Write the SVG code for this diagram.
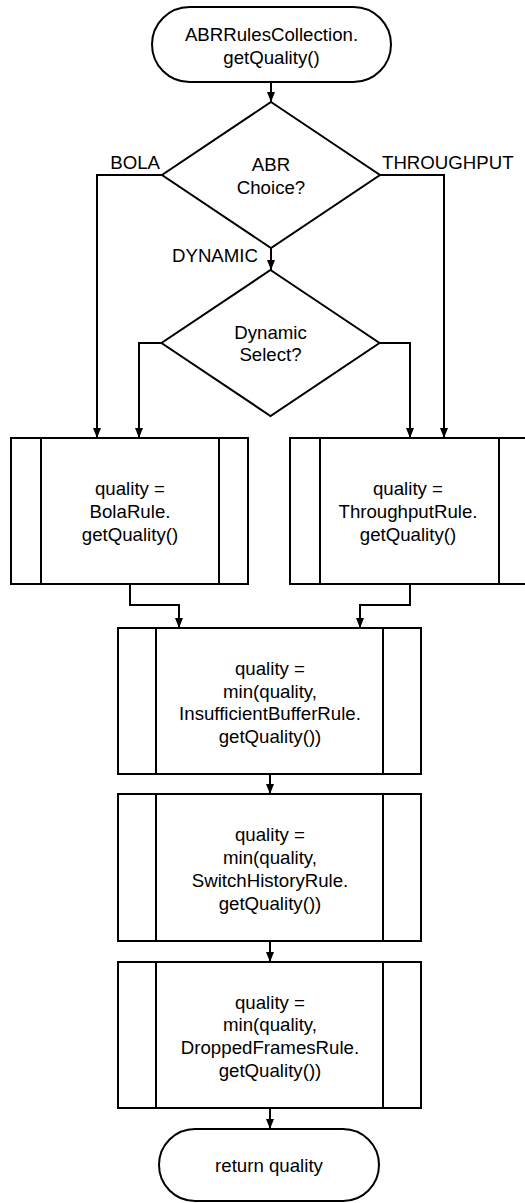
<svg xmlns="http://www.w3.org/2000/svg" width="525" height="1203" viewBox="0 0 525 1203">
<style>
.s{fill:#fff;stroke:#000;stroke-width:2}
.l{stroke:#000;stroke-width:2;fill:none}
.c{fill:none;stroke:#000;stroke-width:2;marker-end:url(#ah)}
text{font-family:"Liberation Sans",Arial,sans-serif;font-size:18.67px;fill:#000}
.m{text-anchor:middle}
</style>
<defs>
<marker id="ah" viewBox="0 0 10 8" refX="10" refY="4" markerWidth="10" markerHeight="8" markerUnits="userSpaceOnUse" orient="auto">
<path d="M0,0 L10,4 L0,8 Z" fill="#000"/>
</marker>
</defs>
<rect width="525" height="1203" fill="#fff"/>
<g id="connectors">
<path class="c" d="M271,82 L271,102"/>
<path class="c" d="M162,175 L97,175 L97,438"/>
<path class="c" d="M380,175 L444,175 L444,438"/>
<path class="c" d="M271,248 L271,270"/>
<path class="c" d="M161,343 L139,343 L139,438"/>
<path class="c" d="M380,343 L410,343 L410,438"/>
<path class="c" d="M130,584 L130,605 L179,605 L179,628"/>
<path class="c" d="M410,584 L410,605 L360,605 L360,628"/>
<path class="c" d="M270,774 L270,794"/>
<path class="c" d="M270,941 L270,962"/>
<path class="c" d="M270,1108 L270,1129"/>
<text x="160" y="168.5" text-anchor="end">BOLA</text>
<text x="382" y="168.5">THROUGHPUT</text>
<text x="258" y="261.5" text-anchor="end">DYNAMIC</text>
</g>
<g id="start">
<rect class="s" x="152" y="7" width="239" height="75" rx="37.5" ry="37.5"/>
<text class="m" x="271.5" y="41">ABRRulesCollection.</text>
<text class="m" x="271.5" y="64">getQuality()</text>
</g>
<g id="abrChoice">
<polygon class="s" points="271,102 380,175 271,248 162,175"/>
<text class="m" x="271" y="171">ABR</text>
<text class="m" x="271" y="193.5">Choice?</text>
</g>
<g id="dynamicSelect">
<polygon class="s" points="270.5,270 379.5,343 270.5,416 161.5,343"/>
<text class="m" x="270.5" y="338.5">Dynamic</text>
<text class="m" x="270.5" y="361">Select?</text>
</g>
<g id="bolaRule">
<rect class="s" x="11" y="438" width="237" height="146"/>
<line class="l" x1="41" y1="438" x2="41" y2="584"/>
<line class="l" x1="219" y1="438" x2="219" y2="584"/>
<text class="m" x="130" y="494.5">quality =</text>
<text class="m" x="130" y="517.5">BolaRule.</text>
<text class="m" x="130" y="540.5">getQuality()</text>
</g>
<g id="throughputRule">
<rect class="s" x="290" y="438" width="237" height="146"/>
<line class="l" x1="320" y1="438" x2="320" y2="584"/>
<line class="l" x1="499" y1="438" x2="499" y2="584"/>
<text class="m" x="408" y="494.5">quality =</text>
<text class="m" x="408" y="517.5">ThroughputRule.</text>
<text class="m" x="408" y="540.5">getQuality()</text>
</g>
<g id="insufficientBuffer">
<rect class="s" x="118" y="628" width="303" height="146"/>
<line class="l" x1="156" y1="628" x2="156" y2="774"/>
<line class="l" x1="383" y1="628" x2="383" y2="774"/>
<text class="m" x="270" y="674.5">quality =</text>
<text class="m" x="270" y="697.5">min(quality,</text>
<text class="m" x="270" y="720">InsufficientBufferRule.</text>
<text class="m" x="270" y="743">getQuality())</text>
</g>
<g id="switchHistory">
<rect class="s" x="118" y="794" width="303" height="147"/>
<line class="l" x1="156" y1="794" x2="156" y2="941"/>
<line class="l" x1="383" y1="794" x2="383" y2="941"/>
<text class="m" x="270" y="840.5">quality =</text>
<text class="m" x="270" y="863.5">min(quality,</text>
<text class="m" x="270" y="886.5">SwitchHistoryRule.</text>
<text class="m" x="270" y="909.5">getQuality())</text>
</g>
<g id="droppedFrames">
<rect class="s" x="118" y="962" width="303" height="146"/>
<line class="l" x1="156" y1="962" x2="156" y2="1108"/>
<line class="l" x1="383" y1="962" x2="383" y2="1108"/>
<text class="m" x="270" y="1008.5">quality =</text>
<text class="m" x="270" y="1031">min(quality,</text>
<text class="m" x="270" y="1054">DroppedFramesRule.</text>
<text class="m" x="270" y="1077">getQuality())</text>
</g>
<g id="end">
<rect class="s" x="159" y="1129" width="220" height="72" rx="36" ry="36"/>
<text class="m" x="269" y="1172">return quality</text>
</g>
</svg>
